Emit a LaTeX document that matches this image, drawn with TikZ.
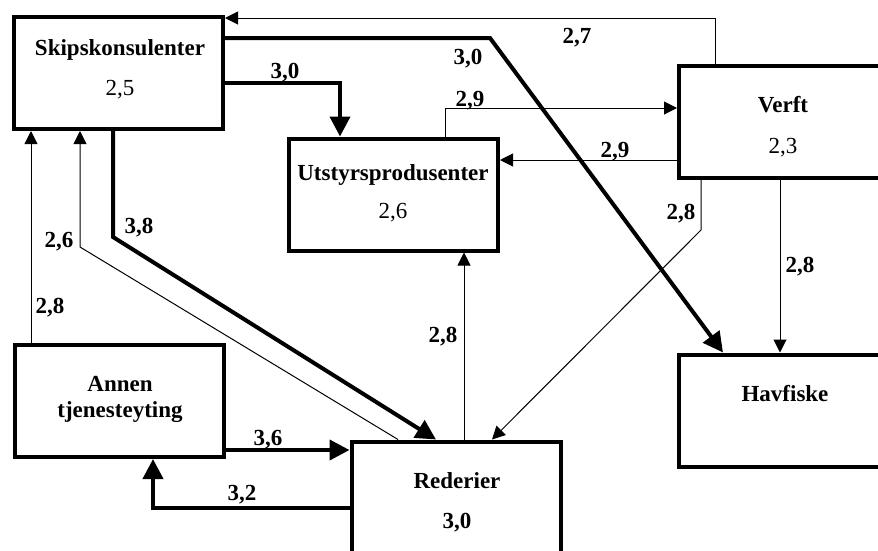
\documentclass[tikz,border=0pt]{standalone}
\usepackage{fontspec}
\setmainfont{Liberation Serif}
\usetikzlibrary{arrows.meta}
\begin{document}
\begin{tikzpicture}[x=1pt,y=-1pt,
  box/.style={draw, line width=4pt, minimum width=209pt, minimum height=112pt, inner sep=0pt},
  txt/.style={anchor=base, inner sep=0pt, font=\fontsize{23}{26}\selectfont},
  btxt/.style={anchor=base, inner sep=0pt, font=\fontsize{23}{26}\selectfont\bfseries},
  thinarrow/.style={line width=1pt, -{Triangle[length=13pt,width=13pt]}},
  thickarrow/.style={line width=4pt, -{Triangle[length=20pt,width=20pt]}}]
\useasboundingbox (0,0) rectangle (878,550);
% boxes
\node[box] (skip)   at (118.5,73)   {};
\node[box] (ut)     at (393.5,194.5) {};
\node[box] (verft)  at (783.5,121.5) {};
\node[box] (hav)    at (783.5,410.5) {};
\node[box] (annen)  at (119,401)    {};
\node[box] (red)    at (456,497.5)  {};
% box texts
\node[btxt] (tskip) at (120,55) {Skipskonsulenter};
\node[txt]  (vskip) at (120,95) {2,5};
\node[btxt] (tut)   at (393,180) {Utstyrsprodusenter};
\node[txt]  (vut)   at (393,218) {2,6};
\node[btxt] (tverft) at (783,112) {Verft};
\node[txt]  (vverft) at (783,153) {2,3};
\node[btxt] (thav)  at (785,401) {Havfiske};
\node[btxt] (tann1) at (120,391) {Annen};
\node[btxt] (tann2) at (120,417) {tjenesteyting};
\node[btxt] (tred)  at (457,488) {Rederier};
\node[btxt] (vred)  at (457,528) {3,0};
% connectors
\draw[thinarrow] (verft.north -| 715,0) -- (715,18) -- (skip.east |- 0,18);
\draw[thickarrow] (skip.east |- 0,38) -- (490,38) -- (hav.north -| 723,0);
\draw[thickarrow] (skip.east |- 0,83) -- (340,83) -- (ut.north -| 340,0);
\draw[thinarrow] (ut.north -| 445,0) -- (445,108) -- (verft.west |- 0,108);
\draw[thinarrow] (verft.west |- 0,160) -- (ut.east |- 0,160);
\draw[thinarrow] (verft.south -| 701,0) -- (701,230) -- (red.north -| 492,0);
\draw[thinarrow] (verft.south -| 780,0) -- (hav.north -| 780,0);
\draw[thinarrow] (red.north -| 464,0) -- (ut.south -| 464,0);
\draw[thinarrow] (red.north -| 398,0) -- (80,247) -- (skip.south -| 80,0);
\draw[thickarrow] (skip.south -| 113,0) -- (113,237) -- (red.north -| 436,0);
\draw[thinarrow] (annen.north -| 31,0) -- (skip.south -| 31,0);
\draw[thickarrow] (annen.east |- 0,450) -- (red.west |- 0,450);
\draw[thickarrow] (red.west |- 0,508) -- (153,508) -- (annen.south -| 153,0);
% connector labels
\node[btxt] (l27)  at (577,43)  {2,7};
\node[btxt] (l30a) at (468,64)  {3,0};
\node[btxt] (l30b) at (285,78)  {3,0};
\node[btxt] (l29a) at (470,106) {2,9};
\node[btxt] (l29b) at (615,157) {2,9};
\node[btxt] (l28a) at (681,219) {2,8};
\node[btxt] (l28b) at (800,272) {2,8};
\node[btxt] (l26)  at (59,247)  {2,6};
\node[btxt] (l38)  at (139,233) {3,8};
\node[btxt] (l28c) at (50,313)  {2,8};
\node[btxt] (l36)  at (268,445) {3,6};
\node[btxt] (l32)  at (242,500) {3,2};
\node[btxt] (l28d) at (443,342) {2,8};
\end{tikzpicture}
\end{document}
